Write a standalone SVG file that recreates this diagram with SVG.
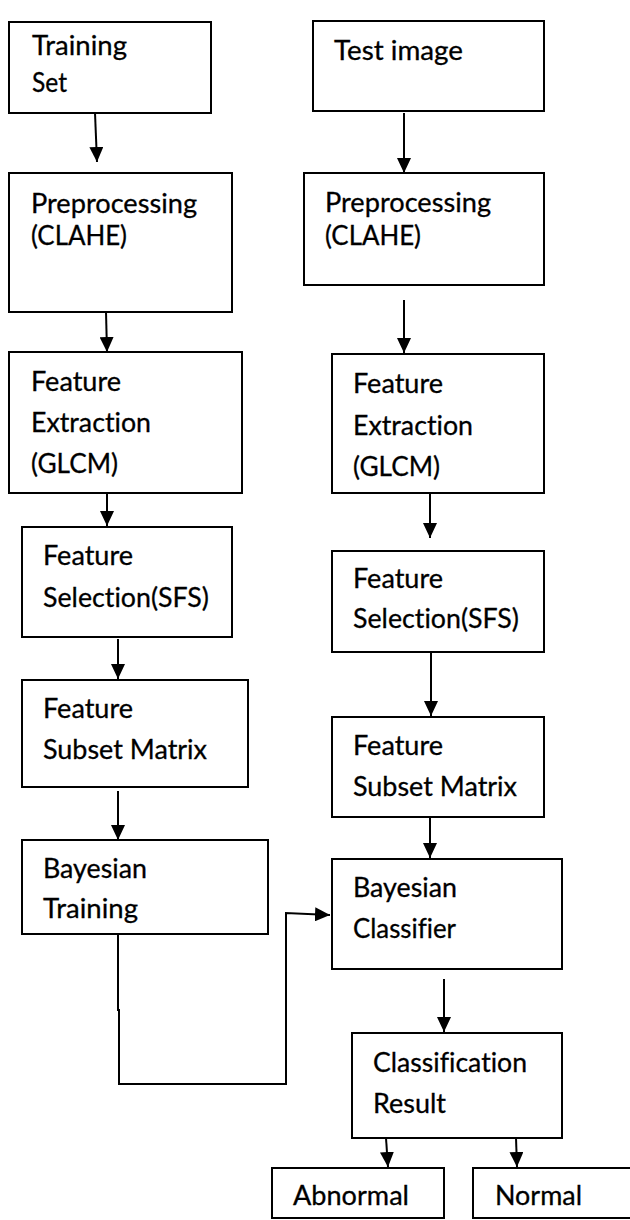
<svg xmlns="http://www.w3.org/2000/svg" width="630" height="1220" viewBox="0 0 630 1220">
<style>
.box{fill:#fff;stroke:#000;stroke-width:2}
.t{font-family:Lato,"Open Sans","Liberation Sans",sans-serif;font-size:27px;fill:#000;font-variant-ligatures:none;stroke:#000;stroke-width:0.3}
.c{fill:none;stroke:#000;stroke-width:2}
</style>
<defs>
<marker id="ah" markerUnits="userSpaceOnUse" markerWidth="15" markerHeight="14" refX="15" refY="7" orient="auto">
<path d="M0,0 L15,7 L0,14 z" fill="#000"/>
</marker>
</defs>
<rect width="630" height="1220" fill="#fff"/>
<g id="connectors">
<line class="c" x1="95" y1="113" x2="97" y2="162" marker-end="url(#ah)"/>
<line class="c" x1="106" y1="312" x2="107" y2="352" marker-end="url(#ah)"/>
<line class="c" x1="107" y1="493" x2="107" y2="526" marker-end="url(#ah)"/>
<line class="c" x1="118" y1="639" x2="118" y2="679" marker-end="url(#ah)"/>
<line class="c" x1="118" y1="791" x2="118" y2="840" marker-end="url(#ah)"/>
<polyline class="c" points="118,934 118,1010 119,1010 119,1084 286,1084 286,913 330,915" marker-end="url(#ah)"/>
<line class="c" x1="404" y1="113" x2="404" y2="173" marker-end="url(#ah)"/>
<line class="c" x1="404" y1="300" x2="404" y2="353" marker-end="url(#ah)"/>
<line class="c" x1="430" y1="493" x2="430" y2="538" marker-end="url(#ah)"/>
<line class="c" x1="431" y1="652" x2="431" y2="716" marker-end="url(#ah)"/>
<line class="c" x1="430" y1="817" x2="430" y2="858" marker-end="url(#ah)"/>
<line class="c" x1="444" y1="979" x2="444" y2="1032" marker-end="url(#ah)"/>
<line class="c" x1="386" y1="1138" x2="388" y2="1167" marker-end="url(#ah)"/>
<line class="c" x1="516" y1="1138" x2="517" y2="1167" marker-end="url(#ah)"/>
</g>
<g id="training-set">
<rect class="box" x="9" y="22" width="202" height="91"/>
<text class="t" x="32" y="55" textLength="95" lengthAdjust="spacingAndGlyphs">Training</text>
<text class="t" x="32" y="92" textLength="35" lengthAdjust="spacingAndGlyphs">Set</text>
</g>
<g id="preprocessing-left">
<rect class="box" x="9" y="173" width="223" height="139"/>
<text class="t" x="31" y="213" textLength="166" lengthAdjust="spacingAndGlyphs">Preprocessing</text>
<text class="t" x="31" y="245" textLength="96" lengthAdjust="spacingAndGlyphs">(CLAHE)</text>
</g>
<g id="feature-extraction-left">
<rect class="box" x="9" y="352" width="233" height="141"/>
<text class="t" x="31" y="391" textLength="90" lengthAdjust="spacingAndGlyphs">Feature</text>
<text class="t" x="31" y="432" textLength="120" lengthAdjust="spacingAndGlyphs">Extraction</text>
<text class="t" x="31" y="473" textLength="87" lengthAdjust="spacingAndGlyphs">(GLCM)</text>
</g>
<g id="feature-selection-left">
<rect class="box" x="22" y="527" width="210" height="110"/>
<text class="t" x="43" y="565" textLength="90" lengthAdjust="spacingAndGlyphs">Feature</text>
<text class="t" x="43" y="607" textLength="166" lengthAdjust="spacingAndGlyphs">Selection(SFS)</text>
</g>
<g id="feature-subset-left">
<rect class="box" x="22" y="680" width="226" height="107"/>
<text class="t" x="43" y="718" textLength="90" lengthAdjust="spacingAndGlyphs">Feature</text>
<text class="t" x="43" y="759" textLength="164" lengthAdjust="spacingAndGlyphs">Subset Matrix</text>
</g>
<g id="bayesian-training">
<rect class="box" x="22" y="840" width="246" height="94"/>
<text class="t" x="43" y="878" textLength="104" lengthAdjust="spacingAndGlyphs">Bayesian</text>
<text class="t" x="43" y="918" textLength="95" lengthAdjust="spacingAndGlyphs">Training</text>
</g>
<g id="test-image">
<rect class="box" x="313" y="21" width="231" height="90"/>
<text class="t" x="334" y="60" textLength="129" lengthAdjust="spacingAndGlyphs">Test image</text>
</g>
<g id="preprocessing-right">
<rect class="box" x="304" y="173" width="240" height="112"/>
<text class="t" x="325" y="212" textLength="166" lengthAdjust="spacingAndGlyphs">Preprocessing</text>
<text class="t" x="325" y="245" textLength="96" lengthAdjust="spacingAndGlyphs">(CLAHE)</text>
</g>
<g id="feature-extraction-right">
<rect class="box" x="332" y="354" width="212" height="139"/>
<text class="t" x="353" y="393" textLength="90" lengthAdjust="spacingAndGlyphs">Feature</text>
<text class="t" x="353" y="435" textLength="120" lengthAdjust="spacingAndGlyphs">Extraction</text>
<text class="t" x="353" y="476" textLength="87" lengthAdjust="spacingAndGlyphs">(GLCM)</text>
</g>
<g id="feature-selection-right">
<rect class="box" x="332" y="551" width="212" height="101"/>
<text class="t" x="353" y="588" textLength="90" lengthAdjust="spacingAndGlyphs">Feature</text>
<text class="t" x="353" y="628" textLength="166" lengthAdjust="spacingAndGlyphs">Selection(SFS)</text>
</g>
<g id="feature-subset-right">
<rect class="box" x="332" y="717" width="212" height="100"/>
<text class="t" x="353" y="755" textLength="90" lengthAdjust="spacingAndGlyphs">Feature</text>
<text class="t" x="353" y="796" textLength="164" lengthAdjust="spacingAndGlyphs">Subset Matrix</text>
</g>
<g id="bayesian-classifier">
<rect class="box" x="332" y="859" width="230" height="110"/>
<text class="t" x="353" y="897" textLength="104" lengthAdjust="spacingAndGlyphs">Bayesian</text>
<text class="t" x="353" y="938" textLength="103" lengthAdjust="spacingAndGlyphs">Classifier</text>
</g>
<g id="classification-result">
<rect class="box" x="352" y="1033" width="210" height="105"/>
<text class="t" x="373" y="1072" textLength="154" lengthAdjust="spacingAndGlyphs">Classification</text>
<text class="t" x="373" y="1113" textLength="73" lengthAdjust="spacingAndGlyphs">Result</text>
</g>
<g id="abnormal">
<rect class="box" x="272" y="1168" width="172" height="50"/>
<text class="t" x="293" y="1205" textLength="116" lengthAdjust="spacingAndGlyphs">Abnormal</text>
</g>
<g id="normal">
<rect class="box" x="473" y="1168" width="170" height="50"/>
<text class="t" x="495" y="1205" textLength="87" lengthAdjust="spacingAndGlyphs">Normal</text>
</g>
</svg>
